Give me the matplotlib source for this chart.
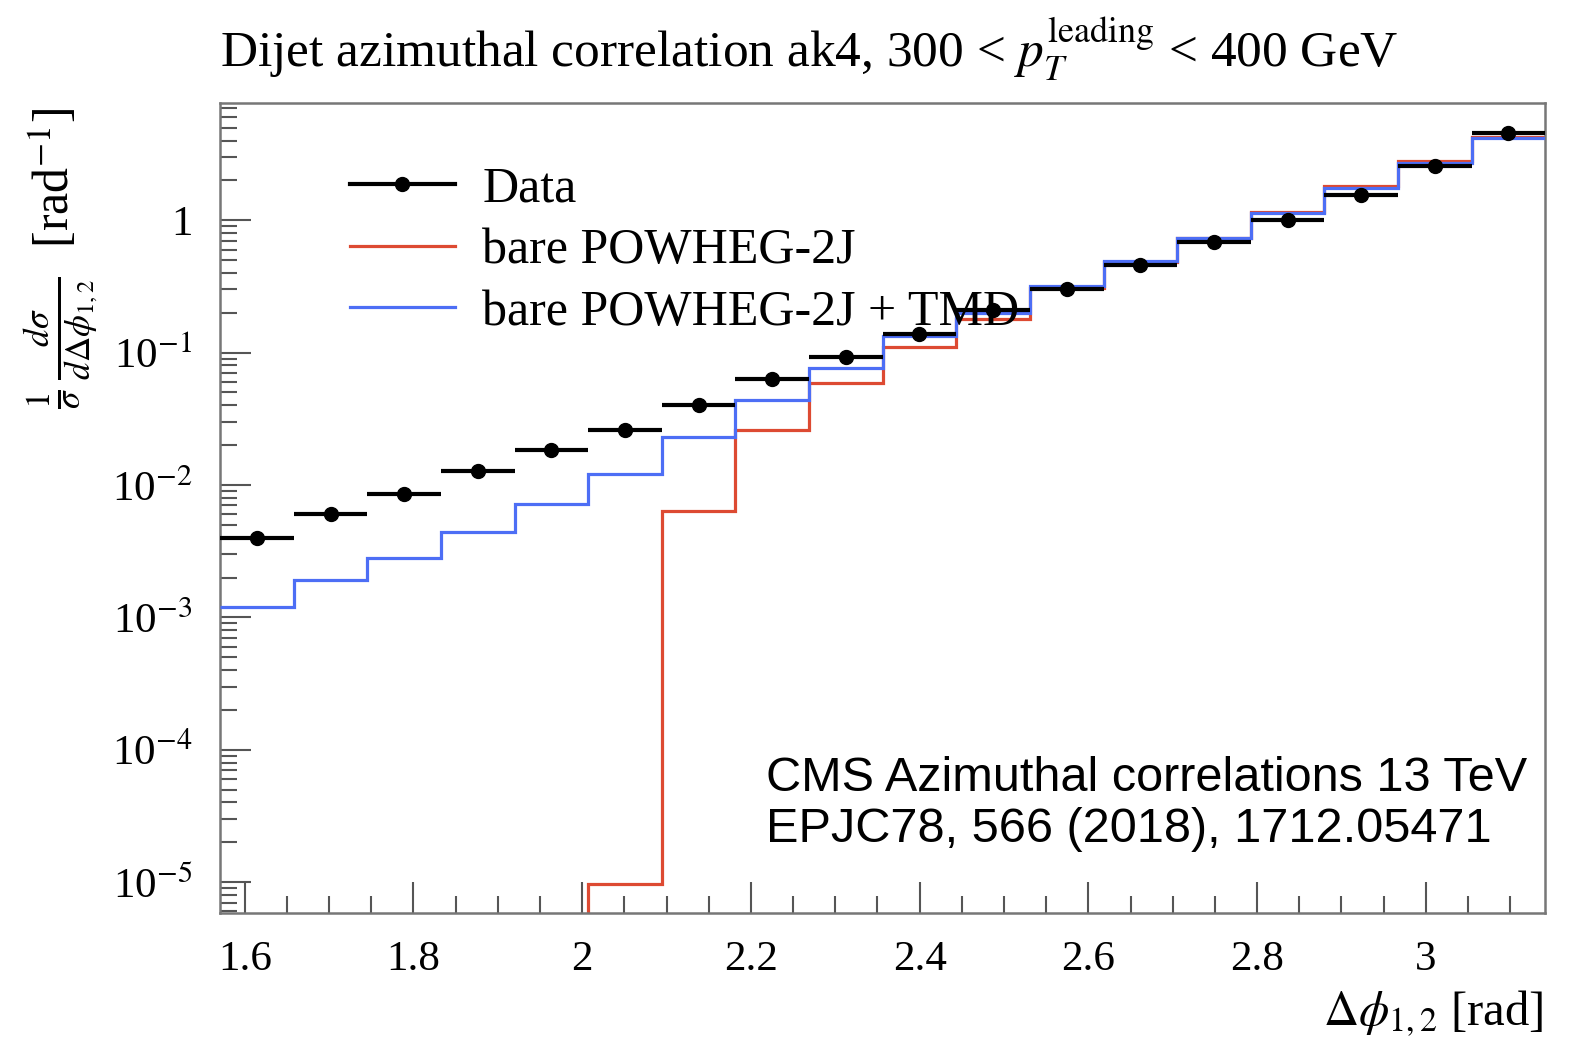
import numpy as np
import matplotlib
matplotlib.use("Agg")
import matplotlib.pyplot as plt
from matplotlib.ticker import FixedLocator, LogLocator, FuncFormatter, MultipleLocator
from matplotlib.lines import Line2D

plt.rcParams['mathtext.fontset'] = 'stix'
plt.rcParams['font.family'] = ['Liberation Serif', 'DejaVu Serif']

# ---- data ----
edges = np.linspace(np.pi / 2, np.pi, 19)
data = [4.0e-3, 6.0e-3, 8.5e-3, 1.27e-2, 1.83e-2, 2.6e-2, 4.0e-2, 6.3e-2, 9.2e-2,
        0.138, 0.209, 0.301, 0.457, 0.682, 1.0, 1.55, 2.56, 4.54]
tmd = [1.2e-3, 1.9e-3, 2.8e-3, 4.4e-3, 7.2e-3, 1.22e-2, 2.3e-2, 4.4e-2, 7.6e-2,
       0.133, 0.20, 0.32, 0.49, 0.73, 1.13, 1.75, 2.7, 4.15]
bare = [0.0, 0.0, 0.0, 0.0, 0.0, 9.7e-6, 6.4e-3, 2.6e-2, 5.9e-2,
        0.111, 0.18, 0.31, 0.48, 0.74, 1.15, 1.8, 2.8, 4.25]
labels = ["Data", "bare POWHEG-2J", "bare POWHEG-2J + TMD"]

data = np.array(data); tmd = np.array(tmd); bare = np.array(bare)
centers = 0.5 * (edges[1:] + edges[:-1])
halfw = 0.5 * np.diff(edges)

fig = plt.figure(figsize=(15.72, 10.43), dpi=100)
ax = fig.add_axes([0.14, 0.1246, 0.843, 0.7764])
ax.set_yscale('log')
ax.set_xlim(edges[0], edges[-1])
ax.set_ylim(10 ** -5.234, 10 ** 0.884)

red = '#dd4a32'
blue = '#4d6ef5'
lw_mc = 2.3

bare_plot = np.where(bare > 0, bare, 1e-9)
ax.stairs(bare_plot, edges, color=red, lw=lw_mc, baseline=None, zorder=2)
ax.stairs(tmd, edges, color=blue, lw=lw_mc, baseline=None, zorder=3)
ax.errorbar(centers, data, xerr=halfw, fmt='o', color='black', ms=10, lw=3,
            capsize=0, zorder=4)

# ticks
ax.xaxis.set_major_locator(MultipleLocator(0.2))
ax.xaxis.set_minor_locator(MultipleLocator(0.05))
ax.xaxis.set_major_formatter(FuncFormatter(lambda v, p: f"{v:g}"))
ax.yaxis.set_major_locator(FixedLocator([1e-5, 1e-4, 1e-3, 1e-2, 1e-1, 1]))
ax.yaxis.set_minor_locator(LogLocator(base=10, subs=np.arange(2, 10), numticks=20))


def yfmt(v, p):
    e = int(round(np.log10(v)))
    if e == 0:
        return "1"
    return r"10$^{%d}$" % e


ax.yaxis.set_major_formatter(FuncFormatter(yfmt))
ax.yaxis.set_minor_formatter(FuncFormatter(lambda v, p: ""))
ax.tick_params(axis='both', which='both', direction='in', top=False, right=False,
               color='#555555', width=1.5)
ax.tick_params(axis='y', which='major', length=22, labelsize=31, pad=20)
ax.tick_params(axis='y', which='minor', length=12)
ax.tick_params(axis='x', which='major', length=22, labelsize=31, pad=20)
ax.tick_params(axis='x', which='minor', length=12)
for s in ax.spines.values():
    s.set_color('#777777')
    s.set_linewidth(1.8)

# legend
hd = [Line2D([], [], color='black', lw=3, marker='o', ms=10),
      Line2D([], [], color=red, lw=lw_mc),
      Line2D([], [], color=blue, lw=lw_mc)]
ax.legend(hd, labels, loc='upper left', bbox_to_anchor=(0.098, 0.922), frameon=False,
          fontsize=36, handlelength=2.1, handletextpad=0.55, labelspacing=0.3,
          borderaxespad=0, borderpad=0)

ax.text(0.412, 0.075, "CMS Azimuthal correlations 13 TeV\nEPJC78, 566 (2018), 1712.05471",
        transform=ax.transAxes, ha='left', va='bottom', fontsize=35,
        family='Liberation Sans', linespacing=1.17)

fig.text(0.14, 0.952, r"Dijet azimuthal correlation ak4, 300 < $p_T^{\mathrm{leading}}$ < 400 GeV",
         ha='left', va='center', fontsize=37)
fig.text(0.982, 0.028, r"$\Delta\phi_{1,2}$ [rad]", ha='right', va='center', fontsize=35)
fig.text(0.04, 0.752, r"$\frac{1}{\sigma}\,\frac{d\sigma}{d\Delta\phi_{1,2}}$  [rad$^{-1}$]",
         rotation=90, ha='center', va='center', fontsize=36)

fig.savefig("out.png", dpi=100)
